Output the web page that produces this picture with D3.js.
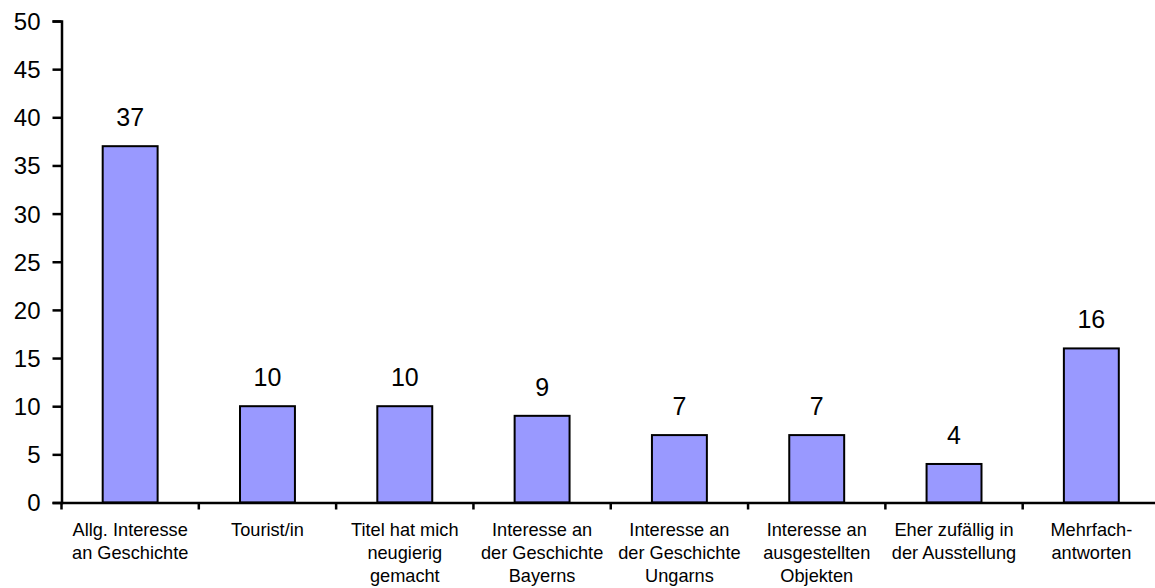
<!DOCTYPE html>
<html><head><meta charset="utf-8">
<script src="https://cdn.jsdelivr.net/npm/d3@7"></script>
<style>
html,body{margin:0;padding:0;background:#fff;}
svg text{font-family:"Liberation Sans",Arial,sans-serif;fill:#000;}
</style></head>
<body><svg id="c" width="1155" height="588"></svg>
<script>
const categories = [
  ["Allg. Interesse","an Geschichte"],
  ["Tourist/in"],
  ["Titel hat mich","neugierig","gemacht"],
  ["Interesse an","der Geschichte","Bayerns"],
  ["Interesse an","der Geschichte","Ungarns"],
  ["Interesse an","ausgestellten","Objekten"],
  ["Eher zufällig in","der Ausstellung"],
  ["Mehrfach-","antworten"]
];
const values = [37,10,10,9,7,7,4,16];
const yTicks = [0,5,10,15,20,25,30,35,40,45,50];

const svg = d3.select("#c");
const keys = categories.map((d,i)=>i);
const x = d3.scaleBand().domain(keys).range([61.5,1160]).padding(0);
const y = d3.scaleLinear().domain([0,50]).range([502.5,21]);

// bars
const bw = x.bandwidth()*0.4;
svg.append("g").selectAll("rect").data(values).join("rect")
  .attr("x",(d,i)=>x(i)+x.bandwidth()/2-bw/2)
  .attr("y",d=>y(d))
  .attr("width",bw)
  .attr("height",d=>y(0)-y(d))
  .attr("fill","#9999FF").attr("stroke","#000").attr("stroke-width",2);

// value labels
svg.append("g").selectAll("text").data(values).join("text")
  .attr("x",(d,i)=>x(i)+x.bandwidth()/2)
  .attr("y",d=>y(d)-20)
  .attr("text-anchor","middle")
  .attr("font-size",25)
  .text(d=>d);

// y axis
const ya = d3.axisLeft(y).tickValues(yTicks).tickSize(9).tickPadding(12).tickFormat(d3.format("d"));
const gy = svg.append("g").attr("transform","translate(61.5,0)").call(ya);
gy.attr("font-size",null).attr("font-family",null);
gy.select(".domain").attr("stroke","#000").attr("stroke-width",2.5);
gy.selectAll(".tick line").attr("stroke","#000").attr("stroke-width",2.5);
gy.selectAll(".tick text").attr("font-size",24).attr("dy","0.35em");

// x axis line
const xa = d3.axisBottom(x).tickValues([]).tickSizeOuter(0);
const gx = svg.append("g").attr("transform",`translate(0,${y(0)})`).call(xa);
gx.select(".domain").attr("stroke","#000").attr("stroke-width",2.5);
// category boundary ticks
const bounds = keys.map(i=>x(i)).concat([x(keys.length-1)+x.bandwidth()]);
gx.selectAll("line.bt").data(bounds).join("line").attr("class","bt")
  .attr("x1",d=>d).attr("x2",d=>d).attr("y1",0).attr("y2",7)
  .attr("stroke","#000").attr("stroke-width",2.5);

// category labels
const lab = svg.append("g").selectAll("text").data(categories).join("text")
  .attr("text-anchor","middle")
  .attr("font-size",18.2)
  .attr("transform",(d,i)=>`translate(${x(i)+x.bandwidth()/2},536)`);
lab.selectAll("tspan").data(d=>d).join("tspan")
  .attr("x",0).attr("y",(d,j)=>j*23).text(d=>d);
</script></body></html>
